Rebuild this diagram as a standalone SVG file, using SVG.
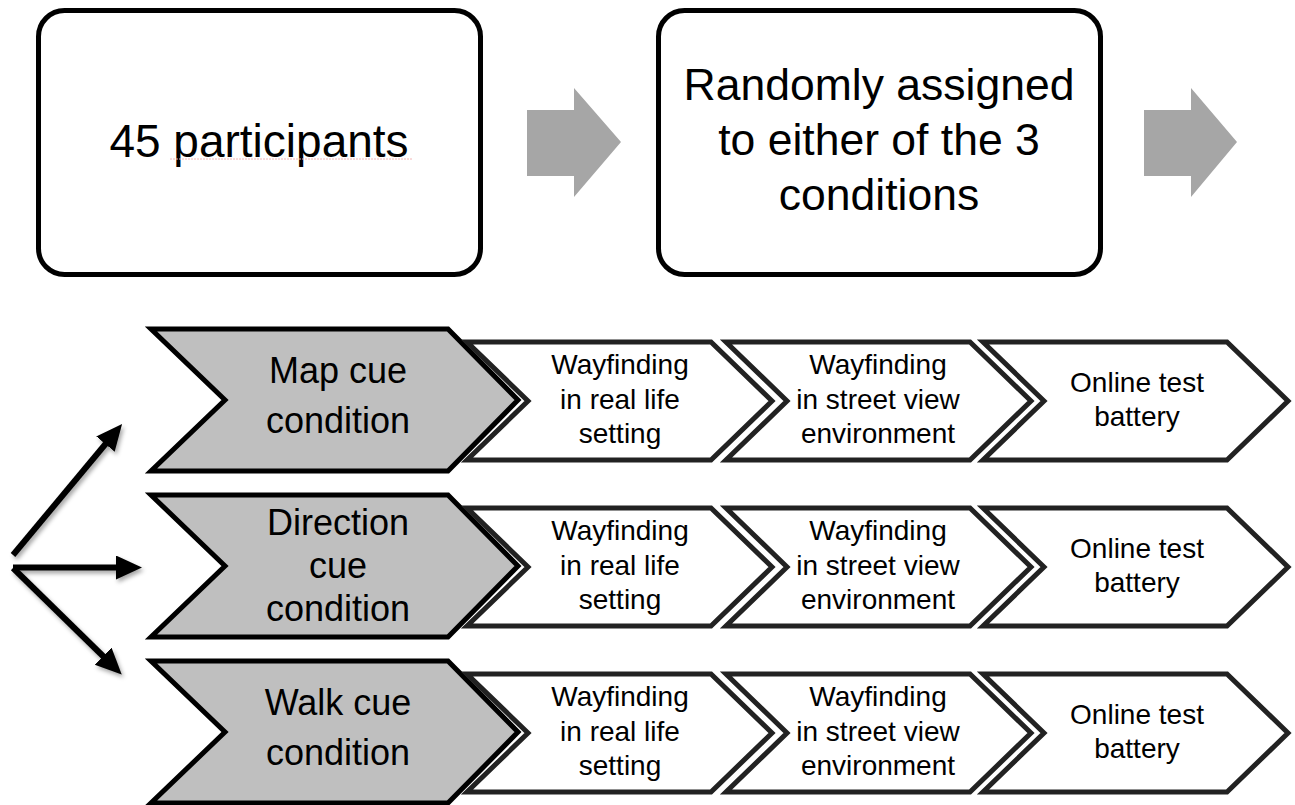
<svg xmlns="http://www.w3.org/2000/svg" width="1295" height="805" viewBox="0 0 1295 805">
<style>
.box{fill:#fff;stroke:#000;stroke-width:5}
.cond{fill:#bfbfbf;stroke:#000;stroke-width:5;stroke-linejoin:miter}
.step{fill:#fff;stroke:#222;stroke-width:5;stroke-linejoin:miter}
.big{font-family:"Liberation Sans",Arial,sans-serif;fill:#000;text-anchor:middle}
.mid{font-family:"Liberation Sans",Arial,sans-serif;font-size:36px;fill:#000;text-anchor:middle}
.sm{font-family:"Liberation Sans",Arial,sans-serif;font-size:28px;fill:#000;text-anchor:middle}
.blk{fill:#a6a6a6}
.ln{stroke:#000;stroke-width:6;fill:none;marker-end:url(#ah)}
</style>
<defs>
<marker id="ah" markerUnits="userSpaceOnUse" markerWidth="28" markerHeight="26" refX="4" refY="12" orient="auto" viewBox="0 0 28 26">
<path d="M0,0 L26,12 L0,24 z" fill="#000"/>
</marker>
<filter id="sh" filterUnits="userSpaceOnUse" x="0" y="400" width="200" height="300">
<feDropShadow dx="2" dy="3" stdDeviation="2" flood-color="#000" flood-opacity="0.35"/>
</filter>
<path id="chevW" d="M0,0 L244,0 L305,59 L244,118 L0,118 L61,59 z"/>
</defs>

<g id="participants">
<rect class="box" x="38.5" y="10.5" width="442" height="264" rx="26"/>
<text class="big" x="259" y="157" font-size="46">45 participants</text>
<line x1="170" y1="159" x2="412" y2="159" stroke="#f2b6b6" stroke-width="1" stroke-dasharray="2 1"/>
</g>

<g id="assigned">
<rect class="box" x="658.5" y="10.5" width="442" height="264" rx="26"/>
<text class="big" x="879" y="100" font-size="44.5">Randomly assigned</text>
<text class="big" x="879" y="155" font-size="44.5">to either of the 3</text>
<text class="big" x="879" y="210" font-size="44.5">conditions</text>
</g>

<g id="connectors">
<polygon class="blk" points="527,110 574,110 574,88 621,142 574,197 574,176 527,176"/>
<polygon class="blk" points="1144,110 1191,110 1191,88 1237,142 1191,197 1191,176 1144,176"/>
<g filter="url(#sh)">
<line class="ln" x1="13" y1="555" x2="108" y2="441"/>
<line class="ln" x1="13" y1="567.5" x2="120" y2="567.5"/>
<line class="ln" x1="13" y1="568" x2="106" y2="659"/>
</g>
</g>

<g id="map-cue">
<polygon class="cond" points="151,329 448,329 518,400 448,471 151,471 225,400"/>
<text class="mid" x="338" y="383">Map cue</text>
<text class="mid" x="338" y="433">condition</text>
</g>
<g id="map-real">
<use href="#chevW" class="step" x="467" y="342"/>
<text class="sm" x="620" y="374">Wayfinding</text>
<text class="sm" x="620" y="409">in real life</text>
<text class="sm" x="620" y="443">setting</text>
</g>
<g id="map-street">
<use href="#chevW" class="step" x="726" y="342"/>
<text class="sm" x="878" y="374">Wayfinding</text>
<text class="sm" x="878" y="409">in street view</text>
<text class="sm" x="878" y="443">environment</text>
</g>
<g id="map-online">
<use href="#chevW" class="step" x="983" y="342"/>
<text class="sm" x="1137" y="392">Online test</text>
<text class="sm" x="1137" y="426">battery</text>
</g>

<g id="direction-cue">
<polygon class="cond" points="151,495 448,495 518,566 448,637 151,637 225,566"/>
<text class="mid" x="338" y="535">Direction</text>
<text class="mid" x="338" y="578">cue</text>
<text class="mid" x="338" y="621">condition</text>
</g>
<g id="direction-real">
<use href="#chevW" class="step" x="467" y="508"/>
<text class="sm" x="620" y="540">Wayfinding</text>
<text class="sm" x="620" y="575">in real life</text>
<text class="sm" x="620" y="609">setting</text>
</g>
<g id="direction-street">
<use href="#chevW" class="step" x="726" y="508"/>
<text class="sm" x="878" y="540">Wayfinding</text>
<text class="sm" x="878" y="575">in street view</text>
<text class="sm" x="878" y="609">environment</text>
</g>
<g id="direction-online">
<use href="#chevW" class="step" x="983" y="508"/>
<text class="sm" x="1137" y="558">Online test</text>
<text class="sm" x="1137" y="592">battery</text>
</g>

<g id="walk-cue">
<polygon class="cond" points="151,661 448,661 518,732 448,803 151,803 225,732"/>
<text class="mid" x="338" y="715">Walk cue</text>
<text class="mid" x="338" y="765">condition</text>
</g>
<g id="walk-real">
<use href="#chevW" class="step" x="467" y="674"/>
<text class="sm" x="620" y="706">Wayfinding</text>
<text class="sm" x="620" y="741">in real life</text>
<text class="sm" x="620" y="775">setting</text>
</g>
<g id="walk-street">
<use href="#chevW" class="step" x="726" y="674"/>
<text class="sm" x="878" y="706">Wayfinding</text>
<text class="sm" x="878" y="741">in street view</text>
<text class="sm" x="878" y="775">environment</text>
</g>
<g id="walk-online">
<use href="#chevW" class="step" x="983" y="674"/>
<text class="sm" x="1137" y="724">Online test</text>
<text class="sm" x="1137" y="758">battery</text>
</g>
</svg>
